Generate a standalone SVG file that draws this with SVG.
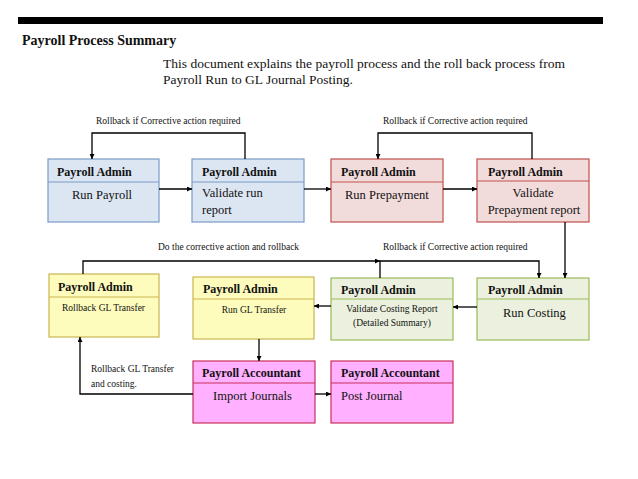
<svg xmlns="http://www.w3.org/2000/svg" width="638" height="479" viewBox="0 0 638 479">
<style>
text{font-family:"Liberation Serif","Times New Roman",serif;fill:#111}
.h{font-weight:bold;font-size:12px}
.b{font-size:12.5px}
.p{font-size:13px}
.s{font-size:9.5px}
.blue rect{fill:#dce6f2;stroke:#7b9ac6;stroke-width:1.2}
.blue line{stroke:#7b9ac6;stroke-width:1.2}
.pink rect{fill:#f2dcdb;stroke:#c0504d;stroke-width:1.2}
.pink line{stroke:#c0504d;stroke-width:1.2}
.yel rect{fill:#fdfcbc;stroke:#c9b650;stroke-width:1.2}
.yel line{stroke:#c9b650;stroke-width:1.2}
.grn rect{fill:#ebf1de;stroke:#9bbb59;stroke-width:1.2}
.grn line{stroke:#9bbb59;stroke-width:1.2}
.mag rect{fill:#ffb0ff;stroke:#c8305c;stroke-width:1.2}
.mag line{stroke:#c8305c;stroke-width:1.2}
.c path{fill:none;stroke:#000;stroke-width:1.3}
</style>
<defs>
<marker id="a" viewBox="0 0 8 8" refX="8" refY="4" markerWidth="5" markerHeight="5" orient="auto" markerUnits="userSpaceOnUse"><path d="M0,0L8,4L0,8z" fill="#000"/></marker>
</defs>
<rect width="638" height="479" fill="#fff"/>
<rect x="18" y="17" width="585" height="7" fill="#000"/>
<text x="22" y="45" style="font-weight:bold;font-size:14px">Payroll Process Summary</text>
<text x="163" y="68" class="p" textLength="402" lengthAdjust="spacingAndGlyphs">This document explains the payroll process and the roll back process from</text>
<text x="163" y="84" class="p" textLength="190" lengthAdjust="spacingAndGlyphs">Payroll Run to GL Journal Posting.</text>

<g id="n1" class="blue"><rect x="48" y="159" width="111" height="63"/><line x1="48" y1="182" x2="159" y2="182"/><text x="57" y="176" class="h">Payroll Admin</text><text x="72" y="199" class="b">Run Payroll</text></g>
<g id="n2" class="blue"><rect x="192" y="159" width="112" height="63"/><line x1="192" y1="182" x2="304" y2="182"/><text x="202" y="176" class="h">Payroll Admin</text><text x="202" y="197" class="b">Validate run</text><text x="202" y="214" class="b">report</text></g>
<g id="n3" class="pink"><rect x="331" y="159" width="112" height="63"/><line x1="331" y1="182" x2="443" y2="182"/><text x="341" y="176" class="h">Payroll Admin</text><text x="345" y="199" class="b">Run Prepayment</text></g>
<g id="n4" class="pink"><rect x="477" y="159" width="112" height="63"/><line x1="477" y1="181" x2="589" y2="181"/><text x="488" y="176" class="h">Payroll Admin</text><text x="533" y="197" class="b" text-anchor="middle">Validate</text><text x="534" y="214" class="b" text-anchor="middle">Prepayment report</text></g>

<g id="n5" class="yel"><rect x="49" y="274" width="110" height="63"/><line x1="49" y1="297" x2="159" y2="297"/><text x="58" y="291" class="h">Payroll Admin</text><text x="62" y="311" class="s">Rollback GL Transfer</text></g>
<g id="n6" class="yel"><rect x="193" y="277" width="121" height="62"/><line x1="193" y1="299" x2="314" y2="299"/><text x="203" y="293" class="h">Payroll Admin</text><text x="254" y="313" class="s" text-anchor="middle">Run GL Transfer</text></g>
<g id="n7" class="grn"><rect x="331" y="278" width="122" height="62"/><line x1="331" y1="299" x2="453" y2="299"/><text x="341" y="294" class="h">Payroll Admin</text><text x="392" y="312" class="s" text-anchor="middle">Validate Costing Report</text><text x="392" y="326" class="s" text-anchor="middle">(Detailed Summary)</text></g>
<g id="n8" class="grn"><rect x="477" y="278" width="112" height="62"/><line x1="477" y1="299" x2="589" y2="299"/><text x="488" y="294" class="h">Payroll Admin</text><text x="503" y="317" class="b">Run Costing</text></g>

<g id="n9" class="mag"><rect x="193" y="361" width="122" height="62"/><line x1="193" y1="383" x2="315" y2="383"/><text x="202" y="377" class="h">Payroll Accountant</text><text x="213" y="400" class="b">Import Journals</text></g>
<g id="n10" class="mag"><rect x="331" y="361" width="122" height="62"/><line x1="331" y1="383" x2="453" y2="383"/><text x="341" y="377" class="h">Payroll Accountant</text><text x="341" y="400" class="b">Post Journal</text></g>

<g id="connectors" class="c">
<path d="M159,189H192" marker-end="url(#a)"/>
<path d="M304,189H331" marker-end="url(#a)"/>
<path d="M443,189H477" marker-end="url(#a)"/>
<path d="M245,159V133H92V159" marker-end="url(#a)"/>
<path d="M532,159V133H378V159" marker-end="url(#a)"/>
<path d="M565,222V278" marker-end="url(#a)"/>
<path d="M477,307H453" marker-end="url(#a)"/>
<path d="M331,306H314" marker-end="url(#a)"/>
<path d="M380,278V261H539V278" marker-end="url(#a)"/>
<path d="M83,274V261H380" marker-end="url(#a)"/>
<path d="M259,339V361" marker-end="url(#a)"/>
<path d="M315,394H331" marker-end="url(#a)"/>
<path d="M193,394H80V337" marker-end="url(#a)"/>
</g>
<g id="labels">
<text x="96" y="124" class="s">Rollback if Corrective action required</text>
<text x="383" y="124" class="s">Rollback if Corrective action required</text>
<text x="158" y="250" class="s">Do the corrective action and rollback</text>
<text x="383" y="250" class="s">Rollback if Corrective action required</text>
<text x="91" y="372" class="s">Rollback GL Transfer</text>
<text x="91" y="387" class="s">and costing.</text>
</g>
</svg>
